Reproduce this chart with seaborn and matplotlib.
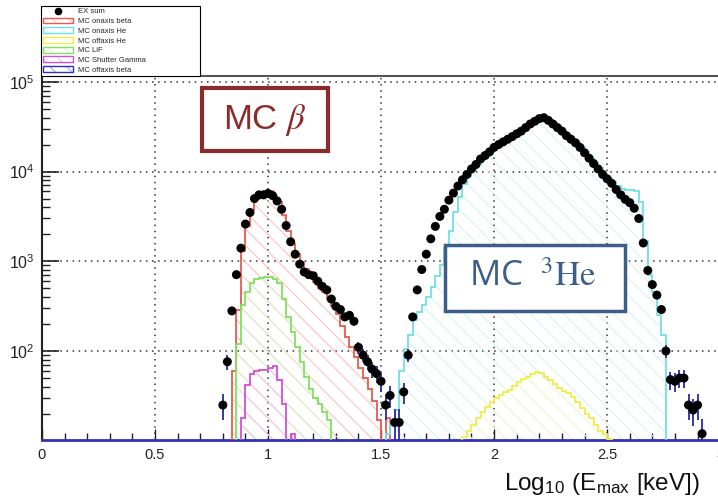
import numpy as np
import seaborn as sns
import matplotlib.pyplot as plt
from matplotlib.patches import Patch, Rectangle
from matplotlib.lines import Line2D
from matplotlib.ticker import LogLocator, MultipleLocator, FuncFormatter, NullFormatter

# all histograms share a 0.02 wide binning in log10(E)
BIN = 0.02

# measured spectrum, bin centres start at EX_START
EX_START = 0.80
ex_sum = [
    25, 76, 280, 710, 1400, 2600, 3500, 5000, 5500, 5500,
    5700, 5400, 4700, 3800, 2500, 1650, 1200, 930, 760, 710,
    690, 600, 525, 480, 380, 315, 290, 240, 250, 215,
    110, 90, 76, 63, 56, 46, 25, 32, 16, 16,
    35, 90, 240, 480, 810, 1200, 1780, 2450, 3160, 3800,
    4800, 5750, 6900, 8100, 9300, 10700, 12000, 13800, 15100, 16600,
    18600, 20000, 21400, 22900, 24500, 26300, 28200, 30900, 33900, 36300,
    38900, 39800, 37200, 33900, 30900, 28200, 25100, 22900, 20900, 18600,
    16200, 14100, 12300, 10700, 9300, 8300, 7400, 6300, 5500, 4900,
    4500, 3900, 3000, 1600, 790, 550, 420, 290, 100, 48,
    46, 50, 50, 25, 22, 25, 12,
]

# MC components, left bin edge given by *_START
BETA_START = 0.84
mc_onaxis_beta = [
    60, 290, 1300, 2500, 3700, 5000, 5600, 6000, 6000, 5300,
    4600, 3300, 2200, 1550, 1200, 980, 820, 680, 590, 510,
    450, 380, 320, 260, 190, 145, 110, 85, 65, 50,
    38, 28, 17, 0, 18,
]

HE_START = 1.52
mc_onaxis_he = [
    12, 16, 22, 60, 105, 150, 220, 270, 330, 400,
    520, 680, 900, 1400, 2200, 3500, 5200, 7300, 9000, 10500,
    12000, 13500, 15000, 16500, 18300, 19800, 21300, 22800, 24300, 26200,
    28300, 31000, 34000, 36500, 39000, 40000, 38000, 34500, 31500, 28500,
    25500, 23000, 21000, 18800, 16400, 14300, 12500, 10900, 9500, 8500,
    7600, 6900, 6400, 6200, 6200, 6100, 4600, 1700, 700, 450,
    250, 150,
]

OFFHE_START = 1.86
mc_offaxis_he = [
    11, 13, 15, 18, 21, 24, 27, 30, 32, 35,
    37, 41, 45, 49, 52, 56, 59, 57, 52, 48,
    43, 39, 36, 34, 31, 27, 23, 20, 18, 15,
    13, 12, 10.5,
]

LIF_START = 0.86
mc_lif = [
    120, 330, 460, 570, 630, 650, 660, 660, 640, 580,
    380, 240, 165, 110, 75, 52, 38, 30, 26, 21, 17,
]

GAMMA_START = 0.88
mc_shutter_gamma = [18, 42, 55, 60, 62, 62, 65, 68, 48, 26, 0, 12]

labels = ['EX sum', 'MC onaxis beta', 'MC onaxis He', 'MC offaxis He',
          'MC LiF', 'MC Shutter Gamma', 'MC offaxis beta']

red, red_h = '#e65a50', '#f6bdb8'
cyan, cyan_h = '#6fdfe8', '#d2f2f5'
yellow, yellow_h = '#f0ee48', '#f9f7d0'
green, green_h = '#80e35c', '#d8f4cd'
magenta, magenta_h = '#d34fd8', '#f1c3f2'
blue = '#3030b8'
HATCH = '\\\\'

sns.set_style('ticks')
plt.rcParams['font.family'] = ['Liberation Sans', 'DejaVu Sans']
plt.rcParams['mathtext.fontset'] = 'stix'
plt.rcParams['hatch.linewidth'] = 0.7

fig = plt.figure(figsize=(7.18, 4.99), dpi=100)
ax = fig.add_axes([42 / 718, 59 / 499, 1 - 42 / 718 + 0.003, 364.3 / 499])


def draw_hist(start, values, line_col, hatch_col):
    edges = start + BIN * np.arange(len(values) + 1)
    ax.stairs(values, edges, baseline=1, fill=True, facecolor='none',
              edgecolor=hatch_col, hatch=HATCH, linewidth=0, zorder=2)
    ax.stairs(values, edges, baseline=1, color=line_col, linewidth=1.3, zorder=3)


draw_hist(BETA_START, mc_onaxis_beta, red, red_h)
draw_hist(HE_START, mc_onaxis_he, cyan, cyan_h)
draw_hist(OFFHE_START, mc_offaxis_he, yellow, yellow_h)
draw_hist(LIF_START, mc_lif, green, green_h)
draw_hist(GAMMA_START, mc_shutter_gamma, magenta, magenta_h)

ex_x = EX_START + BIN * np.arange(len(ex_sum))
ex_err = 1.6 * np.sqrt(ex_sum)
ax.errorbar(ex_x, ex_sum, yerr=ex_err, fmt='none', ecolor='#2a2a9c',
            elinewidth=1.3, capsize=0, zorder=4)
sns.scatterplot(x=ex_x, y=ex_sum, color='black', s=42, edgecolor='none',
                ax=ax, zorder=5, legend=False)

ax.set_yscale('log')
ax.set_xlim(0, 3)
ax.set_ylim(10.2, 1.17e5)
ax.xaxis.set_major_locator(MultipleLocator(0.5))
ax.xaxis.set_minor_locator(MultipleLocator(0.1))
ax.xaxis.set_major_formatter(FuncFormatter(lambda v, p: f'{v:g}'))
ax.yaxis.set_major_locator(LogLocator(base=10, numticks=10))
ax.yaxis.set_minor_locator(LogLocator(base=10, subs=np.arange(2, 10) * 1.0, numticks=20))
ax.yaxis.set_minor_formatter(NullFormatter())
ax.grid(True, which='major', linestyle=(0, (1, 3)), color='#333333', linewidth=1.1)
ax.set_axisbelow(True)

ax.tick_params(axis='both', which='both', direction='in', top=False, right=False,
               colors='#222222')
ax.tick_params(axis='y', which='major', length=12, width=1.2, labelsize=11.5, pad=5)
ax.tick_params(axis='y', which='minor', length=6, width=1.0)
ax.tick_params(axis='x', which='major', length=8, width=1.0, labelsize=10.5, pad=6)
ax.tick_params(axis='x', which='minor', length=5, width=1.0)
ax.spines['left'].set_linewidth(1.5)
ax.spines['left'].set_color('#222222')
ax.spines['bottom'].set_linewidth(2.0)
ax.spines['bottom'].set_color(blue)
ax.spines['top'].set_linewidth(1.5)
ax.spines['top'].set_color('#555555')
ax.spines['right'].set_visible(False)
ax.set_xlabel('')
ax.set_ylabel('')

# annotation boxes
W, H = 718, 499
fig.patches.append(Rectangle((202 / W, 1 - 151 / H), 126 / W, 63 / H, transform=fig.transFigure,
                             facecolor='white', edgecolor='#8b2b2b', linewidth=3, zorder=6))
fig.text(265 / W, 1 - 120 / H, r'MC $\beta$', color='#8b2b2b', fontsize=25,
         ha='center', va='center', zorder=7)
fig.patches.append(Rectangle((445 / W, 1 - 311 / H), 180 / W, 66 / H, transform=fig.transFigure,
                             facecolor='white', edgecolor='#3c5e88', linewidth=2.5, zorder=6))
fig.text(533 / W, 1 - 277 / H, r'MC  $^{3}\mathrm{He}$', color='#3c5e88', fontsize=25,
         ha='center', va='center', family=['Open Sans', 'DejaVu Sans'], zorder=7)

fig.text(700 / W, 9 / H, r'Log$_{\mathdefault{10}}$ (E$_{\mathdefault{max}}$ [keV])',
         ha='right', va='baseline', fontsize=17.5, color='#111111')

handles = [
    Line2D([], [], marker='o', color='black', linestyle='none', markersize=4.5),
    (Patch(facecolor='white', edgecolor=red_h, hatch=HATCH, linewidth=0),
     Patch(facecolor='none', edgecolor=red, linewidth=1)),
    (Patch(facecolor='white', edgecolor=cyan_h, hatch=HATCH, linewidth=0),
     Patch(facecolor='none', edgecolor=cyan, linewidth=1)),
    (Patch(facecolor='white', edgecolor=yellow_h, hatch=HATCH, linewidth=0),
     Patch(facecolor='none', edgecolor=yellow, linewidth=1)),
    (Patch(facecolor='white', edgecolor=green_h, hatch=HATCH, linewidth=0),
     Patch(facecolor='none', edgecolor=green, linewidth=1)),
    (Patch(facecolor='white', edgecolor=magenta_h, hatch=HATCH, linewidth=0),
     Patch(facecolor='none', edgecolor=magenta, linewidth=1)),
    (Patch(facecolor='white', edgecolor='#a0a0e0', hatch=HATCH, linewidth=0),
     Patch(facecolor='none', edgecolor=blue, linewidth=1)),
]
leg = fig.legend(handles, labels, loc='lower left',
                 bbox_to_anchor=(41 / W, 1 - 76 / H, 159 / W, 69 / H), mode='expand',
                 borderaxespad=0, fontsize=5.5, frameon=True, fancybox=False,
                 edgecolor='black', framealpha=1, handlelength=3.9, handleheight=0.8,
                 labelspacing=0.28, handletextpad=0.7, borderpad=0.3)
leg.get_frame().set_linewidth(0.8)

fig.savefig('out.png', dpi=100)
